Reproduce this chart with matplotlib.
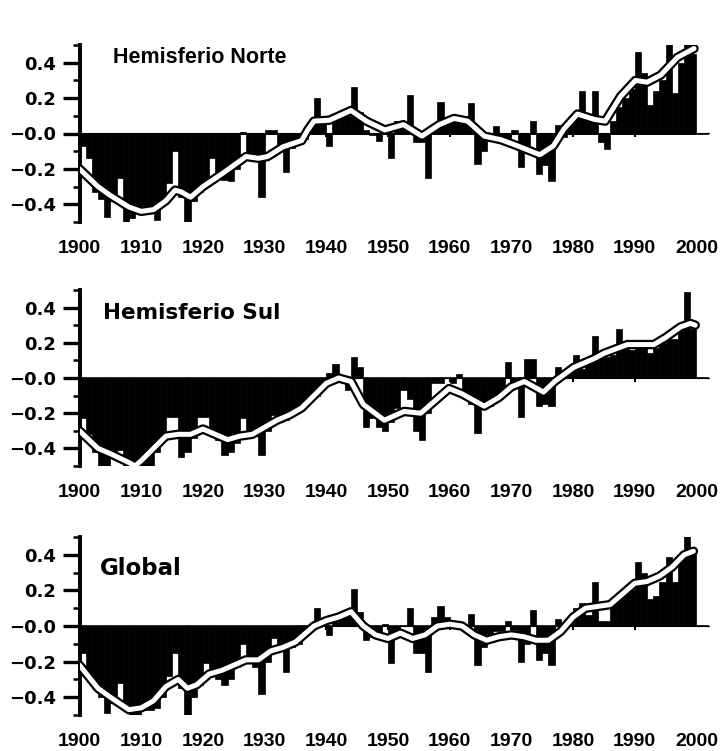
"""Anomalias de temperatura: Hemisferio Norte, Hemisferio Sul e Global (1900-1999)."""
import numpy as np
import matplotlib
matplotlib.use("Agg")
import matplotlib.pyplot as plt

plt.rcParams['font.family'] = ['Liberation Sans', 'DejaVu Sans']
plt.rcParams['font.weight'] = 'bold'

years = np.arange(1900, 2000)

# annual anomalies, 1900..1999
norte = [-0.07, -0.14, -0.33, -0.37, -0.47, -0.38, -0.25, -0.50, -0.48, -0.45,
         -0.44, -0.43, -0.49, -0.40, -0.28, -0.10, -0.36, -0.56, -0.38, -0.33,
         -0.30, -0.14, -0.25, -0.26, -0.27, -0.20, 0.01, -0.14, -0.15, -0.36,
         0.02, 0.02, -0.08, -0.22, -0.08, -0.05, -0.03, 0.05, 0.20, 0.07,
         -0.07, 0.07, 0.09, 0.10, 0.26, 0.12, 0.02, -0.01, -0.04, 0.00,
         -0.14, 0.07, 0.06, 0.22, -0.05, -0.05, -0.25, 0.05, 0.18, 0.08,
         0.10, 0.10, 0.10, 0.17, -0.17, -0.10, -0.03, 0.04, -0.05, -0.05,
         0.02, -0.19, -0.10, 0.07, -0.23, -0.18, -0.27, 0.05, -0.02, 0.06,
         0.12, 0.24, 0.08, 0.24, -0.05, -0.09, 0.07, 0.15, 0.20, 0.25,
         0.46, 0.34, 0.16, 0.24, 0.30, 0.52, 0.23, 0.40, 0.66, 0.45]

sul = [-0.23, -0.32, -0.42, -0.50, -0.52, -0.45, -0.41, -0.50, -0.58, -0.50,
       -0.53, -0.56, -0.42, -0.35, -0.22, -0.22, -0.45, -0.42, -0.34, -0.22,
       -0.22, -0.33, -0.35, -0.44, -0.42, -0.37, -0.23, -0.30, -0.33, -0.44,
       -0.30, -0.21, -0.25, -0.24, -0.20, -0.19, -0.15, -0.12, -0.10, -0.04,
       0.03, 0.08, -0.02, -0.07, 0.12, 0.06, -0.28, -0.23, -0.28, -0.30,
       -0.25, -0.17, -0.07, -0.12, -0.30, -0.35, -0.20, -0.03, -0.03, 0.00,
       -0.03, 0.02, -0.08, -0.15, -0.31, -0.17, -0.16, -0.12, -0.07, 0.09,
       -0.02, -0.22, 0.11, 0.11, -0.16, -0.15, -0.16, 0.06, 0.00, 0.06,
       0.13, 0.05, 0.10, 0.24, 0.13, 0.12, 0.13, 0.28, 0.18, 0.16,
       0.20, 0.17, 0.14, 0.17, 0.20, 0.22, 0.22, 0.30, 0.49, 0.28]

glob = [-0.15, -0.28, -0.35, -0.40, -0.49, -0.43, -0.32, -0.45, -0.52, -0.50,
        -0.47, -0.47, -0.46, -0.40, -0.28, -0.15, -0.35, -0.53, -0.40, -0.33,
        -0.21, -0.27, -0.30, -0.33, -0.30, -0.23, -0.10, -0.20, -0.23, -0.38,
        -0.20, -0.07, -0.12, -0.26, -0.12, -0.10, -0.05, 0.00, 0.10, 0.00,
        -0.05, 0.05, 0.06, 0.07, 0.21, 0.08, -0.08, -0.06, -0.05, 0.01,
        -0.21, -0.05, 0.00, 0.10, -0.15, -0.15, -0.26, 0.05, 0.11, 0.05,
        0.00, 0.02, 0.00, 0.07, -0.22, -0.12, -0.05, -0.03, -0.03, 0.03,
        -0.02, -0.20, -0.10, 0.09, -0.19, -0.15, -0.22, 0.04, 0.00, 0.05,
        0.10, 0.13, 0.06, 0.25, 0.03, 0.03, 0.12, 0.18, 0.20, 0.20,
        0.36, 0.30, 0.15, 0.17, 0.25, 0.39, 0.25, 0.38, 0.60, 0.42]

# smoothed curves
norte_curve_x = [1900, 1903, 1905, 1908, 1910, 1912, 1914, 1915.5, 1916.5, 1918,
                 1920, 1923, 1925, 1927, 1929, 1930.5, 1933, 1936, 1937, 1938,
                 1940.5, 1944, 1946.5, 1949.5, 1952.5, 1955.5, 1958.3, 1960.7, 1962.9,
                 1965.6, 1968.3, 1971, 1974.6, 1976.8, 1978.5, 1980.7, 1983.4, 1985.2,
                 1987.7, 1990.1, 1992, 1994.2, 1996.9, 1999.6]
norte_curve_y = [-0.20, -0.30, -0.35, -0.415, -0.44, -0.43, -0.38, -0.32, -0.33, -0.36,
                 -0.30, -0.23, -0.18, -0.13, -0.14, -0.13, -0.075, -0.04, 0.02, 0.07,
                 0.075, 0.13, 0.07, 0.02, 0.05, -0.015, 0.05, 0.085, 0.07,
                 -0.015, -0.035, -0.07, -0.12, -0.07, 0.025, 0.11, 0.08, 0.07,
                 0.21, 0.30, 0.29, 0.33, 0.43, 0.48]

sul_curve_x = [1900, 1903, 1905, 1908, 1909, 1910, 1912, 1914, 1916, 1918,
               1920, 1922, 1924, 1926, 1928, 1930, 1932, 1934, 1936, 1938,
               1940, 1942, 1944, 1946, 1949.4, 1952.6, 1955.3, 1959.9, 1962,
               1965.6, 1968, 1970, 1972.1, 1975.2, 1977, 1980.1, 1983.4, 1985,
               1988.8, 1993.1, 1995, 1997.4, 1999, 1999.8]
sul_curve_y = [-0.30, -0.40, -0.43, -0.48, -0.50, -0.47, -0.40, -0.33, -0.32, -0.32,
               -0.29, -0.32, -0.35, -0.33, -0.32, -0.28, -0.24, -0.21, -0.17, -0.10,
               -0.03, 0.00, -0.02, -0.15, -0.24, -0.19, -0.20, -0.06, -0.09,
               -0.16, -0.11, -0.05, -0.02, -0.08, -0.02, 0.06, 0.11, 0.14,
               0.19, 0.19, 0.23, 0.29, 0.31, 0.30]

glob_curve_x = [1900, 1903, 1905, 1908, 1910, 1912, 1914, 1916, 1917.5, 1919,
                1921, 1923, 1925, 1927, 1929, 1931, 1933, 1935, 1937, 1938,
                1940, 1942, 1944, 1946, 1948, 1950, 1952, 1954, 1956, 1958,
                1960, 1962, 1964, 1966, 1968, 1970, 1972, 1974, 1976, 1978,
                1980, 1982, 1984, 1986, 1988, 1990, 1992, 1994, 1996, 1998, 1999.5]
glob_curve_y = [-0.22, -0.35, -0.40, -0.47, -0.46, -0.42, -0.34, -0.30, -0.35, -0.33,
                -0.27, -0.25, -0.22, -0.19, -0.19, -0.14, -0.12, -0.09, -0.03, 0.00,
                0.03, 0.05, 0.08, 0.00, -0.05, -0.07, -0.04, -0.07, -0.05, 0.00,
                0.01, 0.00, -0.05, -0.08, -0.06, -0.05, -0.06, -0.08, -0.08, -0.03,
                0.05, 0.10, 0.11, 0.12, 0.18, 0.24, 0.25, 0.28, 0.33, 0.40, 0.42]

titles = ["Hemisferio Norte", "Hemisferio Sul", "Global"]
x_ticks = list(range(1900, 2001, 10))
y_ticks = [-0.4, -0.2, 0.0, 0.2, 0.4]
y_ticklabels = ["\u22120.4", "\u22120.2", "\u22120.0", "0.2", "0.4"]

W, H = 726, 751
fig = plt.figure(figsize=(W / 100, H / 100), dpi=100)

px_per_year = 6.17
left_px = 79.5
# (top, bottom) of each axes box in pixels
boxes = [(45, 222), (290, 466), (537, 715)]
# title placement (x in axes fraction, y in axes fraction, font, size)
title_pos = [(0.053, 0.989, 'Liberation Sans', 15.5),
             (0.037, 0.927, 'DejaVu Sans', 15.5),
             (0.032, 0.887, 'DejaVu Sans', 16.5)]
series = [(norte, norte_curve_x, norte_curve_y),
          (sul, sul_curve_x, sul_curve_y),
          (glob, glob_curve_x, glob_curve_y)]

for (top, bottom), title, tp, (annual, cx, cy) in zip(boxes, titles, title_pos, series):
    x0, x1 = 1900, 2002
    ax = fig.add_axes([left_px / W, 1 - bottom / H,
                       (x1 - x0) * px_per_year / W, (bottom - top) / H])
    ax.bar(years, annual, width=1.0, align='edge', color='black',
           edgecolor='black', linewidth=0.5, zorder=2)
    ax.axhline(0, color='black', lw=1.2, zorder=2)
    ax.plot(cx, cy, color='black', lw=6.8, solid_joinstyle='round',
            solid_capstyle='round', zorder=3)
    ax.plot(cx, cy, color='white', lw=3.6, solid_joinstyle='round',
            solid_capstyle='round', zorder=4)

    ax.set_xlim(x0, x1)
    ax.set_ylim(-0.5, 0.5)
    for s in ['top', 'right', 'bottom']:
        ax.spines[s].set_visible(False)
    ax.spines['left'].set_linewidth(2.8)

    ax.set_yticks(y_ticks)
    ax.set_yticklabels(y_ticklabels, fontsize=13, fontweight='bold',
                       family='DejaVu Sans')
    ax.set_yticks(np.arange(-0.5, 0.51, 0.1), minor=True)
    ax.tick_params(axis='y', which='major', length=12, width=2.4, pad=5)
    ax.tick_params(axis='y', which='minor', length=5, width=1.8)

    ax.set_xticks(x_ticks)
    ax.set_xticklabels([str(v) for v in x_ticks], fontsize=14, fontweight='bold')
    ax.tick_params(axis='x', length=0, pad=13)

    # decade marks on the zero line
    sec = ax.secondary_xaxis(0.5)
    sec.set_xticks(x_ticks[1:-1])
    sec.set_xticklabels([])
    sec.tick_params(direction='in', length=3, width=1.5)
    sec.spines['bottom'].set_visible(False)

    ax.text(tp[0], tp[1], title, transform=ax.transAxes, family=tp[2],
            fontsize=tp[3], fontweight='bold', va='top', ha='left')

fig.savefig("out.png", dpi=100, facecolor='white')
